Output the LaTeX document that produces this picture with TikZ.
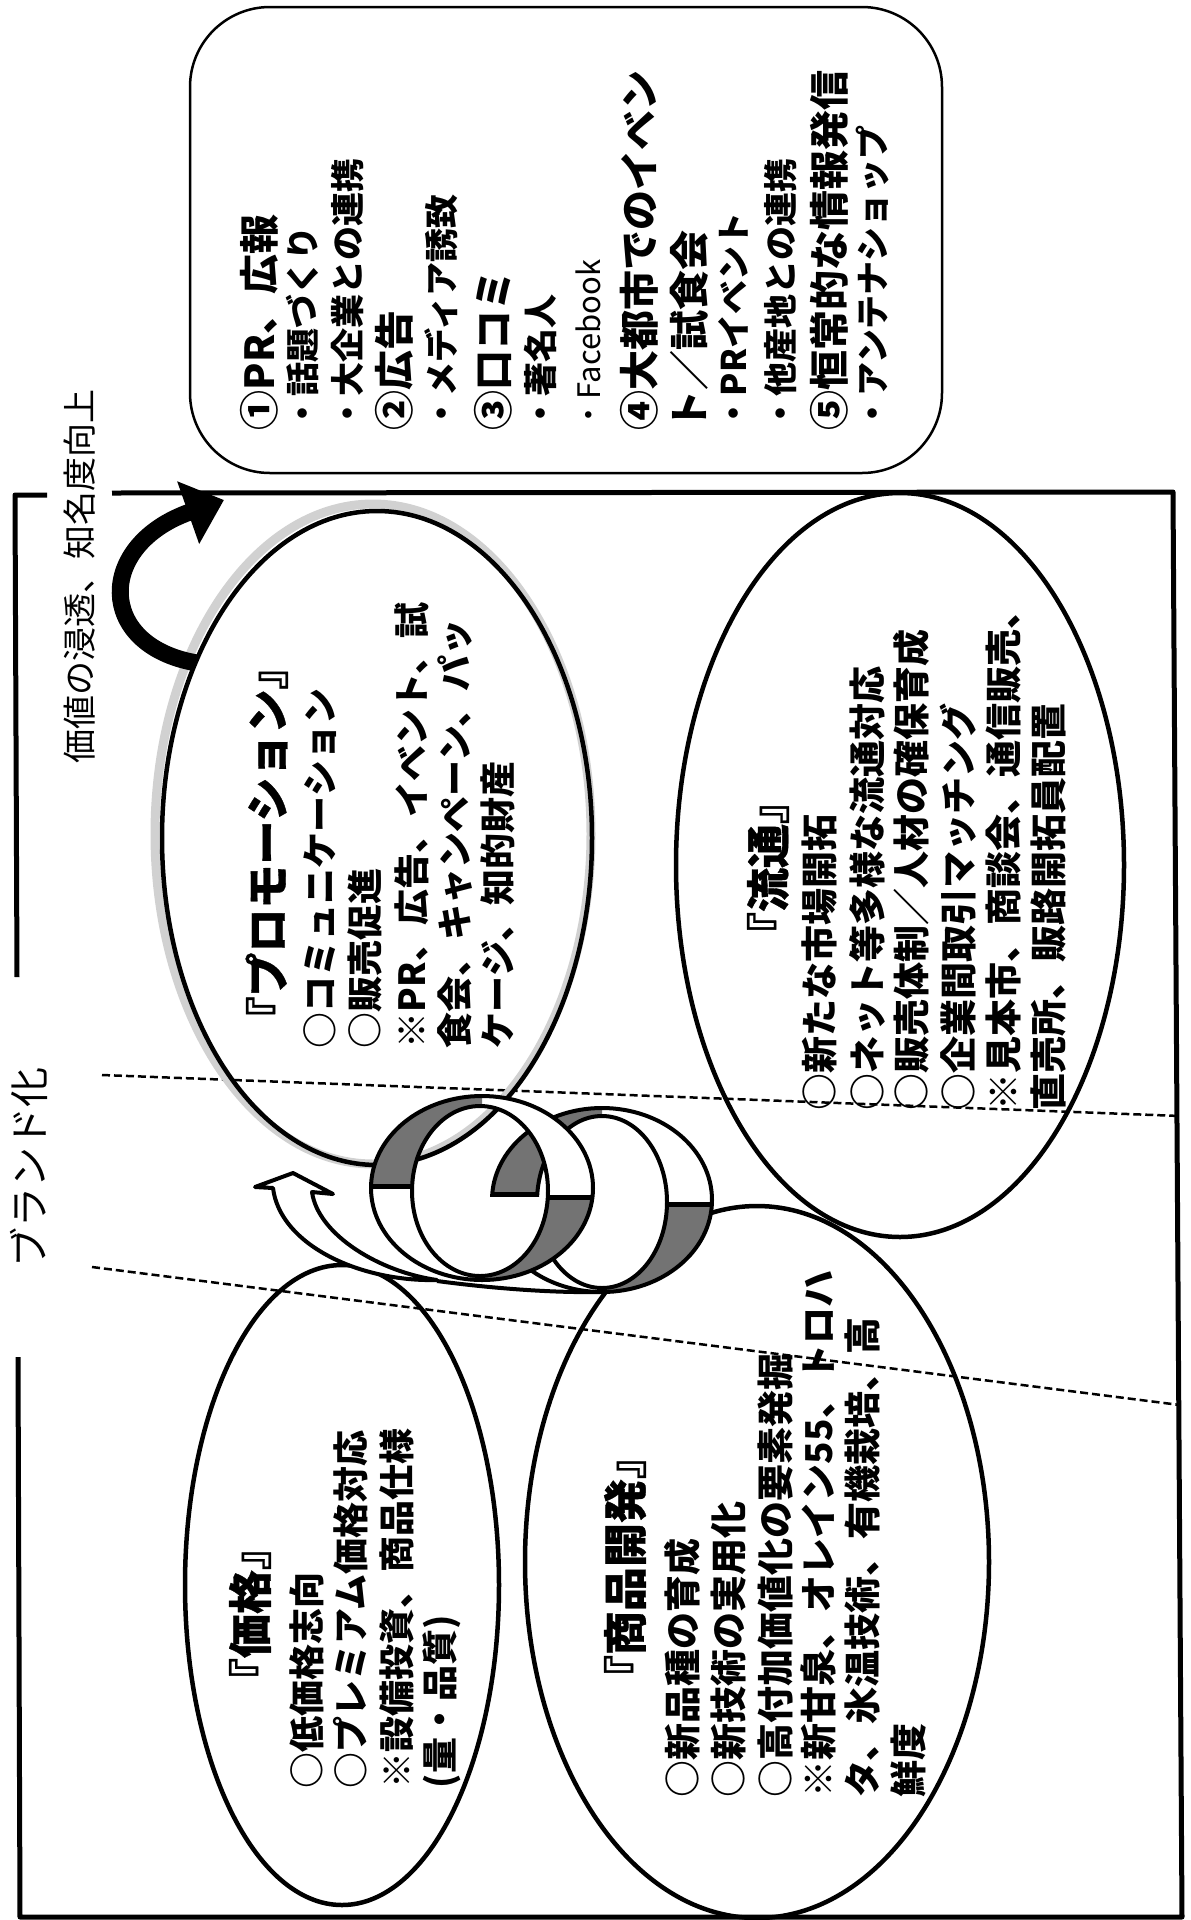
\documentclass[tikz,border=0pt]{standalone}
\usepackage{fontspec}
\setmainfont{Noto Sans CJK JP}
\newfontfamily\titlefont{Noto Sans CJK JP}[FakeBold=0.8]
\usetikzlibrary{shapes.geometric, arrows.meta}
\begin{document}
\begin{tikzpicture}[x=1pt, y=-1pt, line join=round,
  vt/.style={rotate=90, inner sep=0pt, outer sep=0pt, anchor=west},
  vtc/.style={rotate=90, inner sep=0pt, outer sep=0pt, anchor=center},
  fA/.style={font=\fontsize{40}{48}\selectfont\bfseries, text height=35.2pt, text depth=4.8pt},
  fB/.style={font=\fontsize{34}{40}\selectfont\bfseries, text height=29.9pt, text depth=4.1pt},
  fC/.style={font=\fontsize{36}{44}\selectfont\bfseries, text height=31.7pt, text depth=4.3pt},
  fD/.style={font=\fontsize{37}{45}\selectfont\bfseries, text height=32.6pt, text depth=4.4pt},
  fE/.style={font=\fontsize{31}{37}\selectfont, text height=27.3pt, text depth=3.7pt},
  fT/.style={font=\titlefont\fontsize{44}{52}\selectfont\bfseries, text height=38.7pt, text depth=5.3pt},
  fL/.style={font=\fontsize{34}{40}\selectfont, text height=29.9pt, text depth=4.1pt},
  framel/.style={line width=5pt},
  dashsep/.style={line width=2.5pt, dash pattern=on 8pt off 4pt},
  oval/.style={draw, ellipse, line width=4.5pt, inner sep=0pt, outer sep=0pt},
  ringline/.style={line width=4pt},
  ringfill/.style={fill=black!55},
]
\useasboundingbox (0,0) rectangle (1191,1920);

% frame
\draw[framel] (47,495) -- (15,495) -- (17,977);
\draw[framel] (18,1357) -- (20,1917) -- (1182,1917) -- (1173,492) -- (112,493);

% dashed separators
\draw[dashsep] (102,1075) -- (1180,1116);
\draw[dashsep] (92,1267) -- (1180,1405);

% ovals
\node[oval, minimum width=448pt, minimum height=744pt] (ryutsu) at (900,865) {};
\node[oval, minimum width=314pt, minimum height=640pt] (kakaku) at (342,1585) {};
\node[oval, minimum width=464pt, minimum height=712pt] (shohin) at (757,1562) {};
\draw[black!18, line width=9pt] (373,834) ellipse (218 and 330);
\node[oval, minimum width=430pt, minimum height=654pt] (promo) at (377,838) {};

% ring B (back)
\fill[white] (602,1200) ellipse (110 and 92);
\begin{scope}
  \clip (480,1100) rectangle (602,1194);
  \fill[ringfill, even odd rule] (602,1200) ellipse (110 and 92) (602,1202) ellipse (65 and 86);
\end{scope}
\begin{scope}
  \clip (602,1204) rectangle (720,1300);
  \fill[ringfill, even odd rule] (602,1200) ellipse (110 and 92) (602,1202) ellipse (65 and 86);
\end{scope}
\draw[ringline] (602,1200) ellipse (110 and 92);
\draw[ringline] (602,1202) ellipse (65 and 86);
\draw[line width=5pt] (492,1194) -- (537,1194);
\draw[line width=5pt] (667,1204) -- (712,1204);

% ring A (front)
\fill[white, even odd rule] (482,1188) ellipse (111 and 92) (480,1191) ellipse (68 and 85);
\begin{scope}
  \clip (380,1197) rectangle (560,1290);
  \fill[white] (480,1191) ellipse (68 and 85);
\end{scope}
\begin{scope}
  \clip (360,1090) rectangle (482,1186);
  \fill[ringfill, even odd rule] (482,1188) ellipse (111 and 92) (480,1191) ellipse (68 and 85);
\end{scope}
\begin{scope}
  \clip (470,1197) rectangle (600,1290);
  \fill[ringfill, even odd rule] (482,1188) ellipse (111 and 92) (480,1191) ellipse (68 and 85);
\end{scope}
\draw[ringline] (482,1188) ellipse (111 and 92);
\draw[ringline] (480,1191) ellipse (68 and 85);
\draw[line width=5pt] (371,1186) -- (412,1186);
\draw[line width=5pt] (548,1197) -- (592,1197);

% spiral bottom and open arrow
\draw[ringline] (437,1281) .. controls (490,1288) and (550,1293) .. (602,1292);
\filldraw[fill=white, ringline] (437,1280) .. controls (360,1282) and (280,1245) .. (273,1188)
  -- (255,1187) -- (293,1173) -- (333,1194) -- (312,1192)
  .. controls (318,1235) and (380,1272) .. (437,1280) -- cycle;

% black curved arrow
\coordinate (tip) at (224,500);
\draw[line width=17pt, -{Triangle[length=38pt,width=64pt]}] (promo.136) .. controls (96,645) and (96,545) .. (tip);

% rounded box
\node[draw, line width=2.5pt, rounded corners=80pt, minimum width=752pt, minimum height=466pt, inner sep=0pt] (box) at (566,240) {};

% labels
\node[vt, fL] (val) at (80,763) {価値の浸透、知名度向上};
\node[vt, fL, font=\fontsize{40}{48}\selectfont] (brand) at (32,1267) {ブランド化};

% box text
\node[vt,fA] (b1) at (259,430) {①PR、広報};
\node[vt,fB] (b2) at (303,430) {・話題づくり};
\node[vt,fB] (b3) at (348,430) {・大企業との連携};
\node[vt,fA] (b4) at (394,430) {②広告};
\node[vt,fB] (b5) at (442,430) {・メディア誘致};
\node[vt,fA] (b6) at (493,430) {③口コミ};
\node[vt,fB] (b7) at (541,430) {・著名人};
\node[vt,fE] (b8) at (589,430) {・Facebook};
\node[vt,fA] (b9) at (639,430) {④大都市でのイベン};
\node[vt,fA] (b10) at (689,430) {ト／試食会};
\node[vt,fB] (b11) at (734,430) {・PRイベント};
\node[vt,fB] (b12) at (781,430) {・他産地との連携};
\node[vt,fA] (b13) at (829,430) {⑤恒常的な情報発信};
\node[vt,fB] (b14) at (873,430) {・アンテナショップ};

% promotion
\node[vtc,fT] (pt) at (267,843) {『プロモーション』};
\node[vt,fC] (p1) at (320,1048) {○コミュニケーション};
\node[vt,fC] (p2) at (365,1048) {○販売促進};
\node[vt,fC] (p3) at (412,1048) {※PR、広告、イベント、試};
\node[vt,fC] (p4) at (455,1048) {食会、キャンペーン、パッ};
\node[vt,fC] (p5) at (498,1048) {ケージ、知的財産};

% ryutsu
\node[vtc,fT] (rt) at (768,868) {『流通』};
\node[vt,fD] (r1) at (819,1110) {○新たな市場開拓};
\node[vt,fD] (r2) at (867,1110) {○ネット等多様な流通対応};
\node[vt,fD] (r3) at (911,1110) {○販売体制／人材の確保育成};
\node[vt,fD] (r4) at (958,1110) {○企業間取引マッチング};
\node[vt,fD] (r5) at (1003,1110) {※見本市、商談会、通信販売、};
\node[vt,fD] (r6) at (1048,1110) {直売所、販路開拓員配置};

% kakaku
\node[vtc,fT] (kt) at (250,1614) {『価格』};
\node[vt,fC] (k1) at (307,1788) {○低価格志向};
\node[vt,fC] (k2) at (351,1788) {○プレミアム価格対応};
\node[vt,fC] (k3) at (397,1788) {※設備投資、商品仕様};
\node[vt,fC] (k4) at (440,1788) {(量・品質)};

% shohin
\node[vtc,fT] (st) at (625,1567) {『商品開発』};
\node[vt,fD] (s1) at (682,1797) {○新品種の育成};
\node[vt,fD] (s2) at (728,1797) {○新技術の実用化};
\node[vt,fD] (s3) at (775,1797) {○高付加価値化の要素発掘};
\node[vt,fD] (s4) at (818,1797) {※新甘泉、オレイン55、トロハ};
\node[vt,fD] (s5) at (862,1797) {タ、氷温技術、有機栽培、高};
\node[vt,fD] (s6) at (908,1797) {鮮度};
\end{tikzpicture}
\end{document}
